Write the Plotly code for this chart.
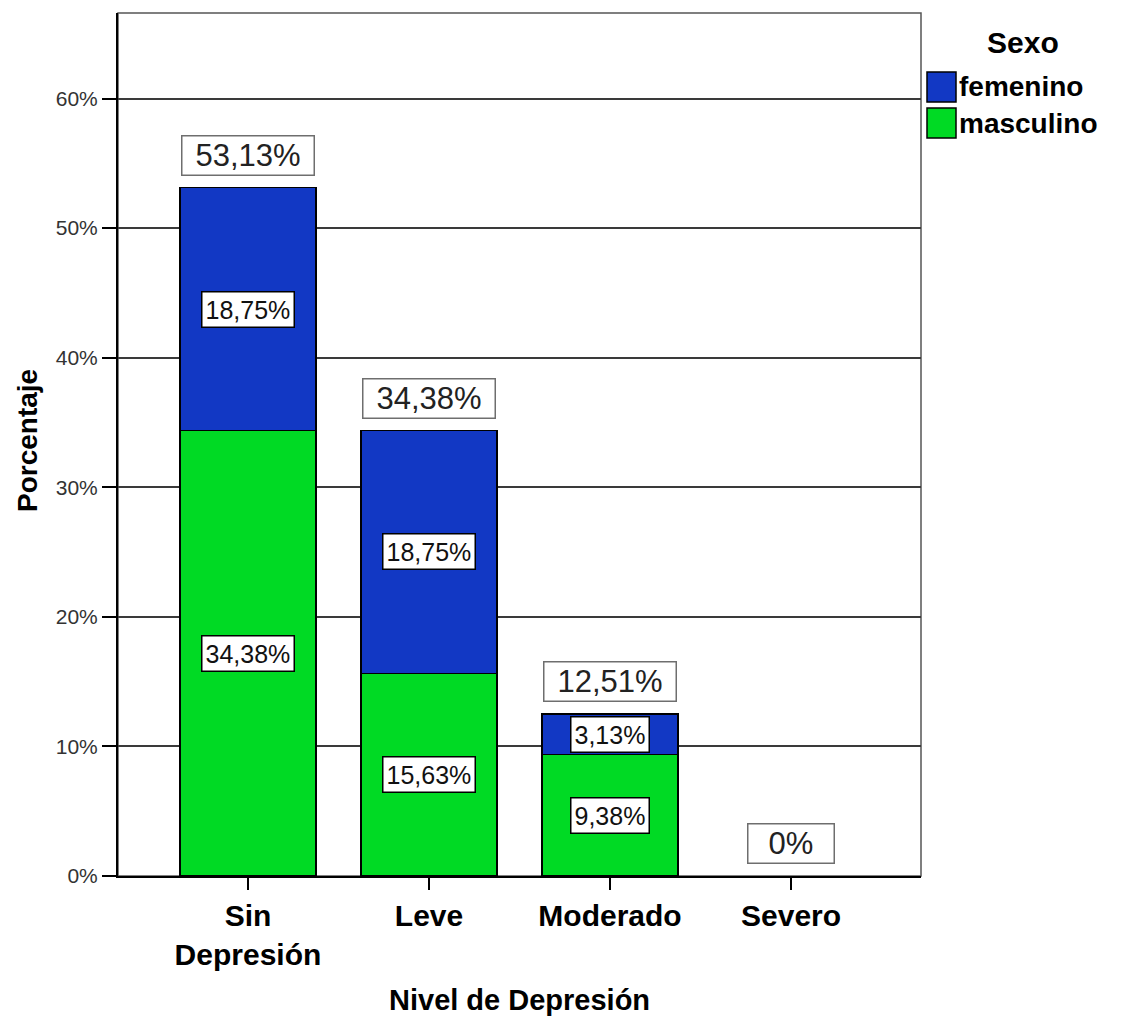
import plotly.graph_objects as go

# Data: percentage of participants by depression level and sex
niveles = ["Sin Depresión", "Leve", "Moderado", "Severo"]
niveles_tick = ["<b>Sin</b><br><b>Depresión</b>", "<b>Leve</b>", "<b>Moderado</b>", "<b>Severo</b>"]
masculino = [34.38, 15.63, 9.38, 0.0]
femenino = [18.75, 18.75, 3.13, 0.0]
totales = [53.13, 34.38, 12.51, 0.0]
etiquetas_masc = ["34,38%", "15,63%", "9,38%", ""]
etiquetas_fem = ["18,75%", "18,75%", "3,13%", ""]
etiquetas_tot = ["53,13%", "34,38%", "12,51%", "0%"]
y_ticks = [0, 10, 20, 30, 40, 50, 60]
y_tick_text = ["0%", "10%", "20%", "30%", "40%", "50%", "60%"]

AZUL = "#1238C4"
VERDE = "#00DA24"
SANS = "Liberation Sans, Arial, sans-serif"

# Plot-area geometry in pixels, used to place the hand-drawn legend
L, R, T, B = 118, 921, 13, 876


def px_x(x):
    return (x - L) / (R - L)


def px_y(y):
    return (B - y) / (B - T)


fig = go.Figure()
fig.add_trace(go.Bar(
    x=niveles, y=masculino, name="masculino",
    marker=dict(color=VERDE,
                line=dict(color="black", width=[1.5 if v > 0 else 0 for v in masculino])),
    width=0.75, showlegend=False, hoverinfo="skip",
))
fig.add_trace(go.Bar(
    x=niveles, y=femenino, name="femenino",
    marker=dict(color=AZUL,
                line=dict(color="black", width=[1.5 if v > 0 else 0 for v in femenino])),
    width=0.75, showlegend=False, hoverinfo="skip",
))

annotations = []
seg_font = dict(family=SANS, size=25, color="#111")
for i, cat in enumerate(niveles):
    # Segment labels centred in each stacked segment
    if etiquetas_masc[i]:
        annotations.append(dict(
            x=cat, y=masculino[i] / 2, xref="x", yref="y",
            text=etiquetas_masc[i], showarrow=False, font=seg_font,
            bgcolor="white", bordercolor="black", borderwidth=1.5, borderpad=3,
        ))
    if etiquetas_fem[i]:
        annotations.append(dict(
            x=cat, y=masculino[i] + femenino[i] / 2, xref="x", yref="y",
            text=etiquetas_fem[i], showarrow=False, font=seg_font,
            bgcolor="white", bordercolor="black", borderwidth=1.5, borderpad=3,
        ))
    # Total label above each bar
    annotations.append(dict(
        x=cat, y=totales[i], xref="x", yref="y", yanchor="bottom",
        yshift=12, text=etiquetas_tot[i], showarrow=False,
        width=11.5 * len(etiquetas_tot[i]) + 60, height=36,
        font=dict(family=SANS, size=31, color="#222"),
        bgcolor="white", bordercolor="#6e6e6e", borderwidth=1.5, borderpad=1,
    ))

# Axis titles
annotations.append(dict(
    x=0.5, y=0, xref="paper", yref="paper", yshift=-124, yanchor="middle",
    text="<b>Nivel de Depresión</b>", showarrow=False,
    font=dict(family=SANS, size=29, color="black"),
))
annotations.append(dict(
    x=0, y=0.504, xref="paper", yref="paper", xshift=-91, xanchor="center",
    text="<b>Porcentaje</b>", textangle=-90, showarrow=False,
    font=dict(family=SANS, size=28, color="black"),
))

# Legend: title, swatches and names
annotations.append(dict(
    x=px_x(1023), y=px_y(42), xref="paper", yref="paper", showarrow=False,
    xanchor="center", yanchor="middle",
    text="<b>Sexo</b>", font=dict(family=SANS, size=30, color="black"),
))
leyenda = [("femenino", AZUL), ("masculino", VERDE)]
shapes = []
for k, (nombre, color) in enumerate(leyenda):
    top = 72 + 36 * k
    shapes.append(dict(
        type="rect", xref="paper", yref="paper",
        x0=px_x(927), x1=px_x(956), y0=px_y(top), y1=px_y(top + 30),
        fillcolor=color, line=dict(color="black", width=1.5),
    ))
    annotations.append(dict(
        x=px_x(957), y=px_y(top + 15), xref="paper", yref="paper",
        xanchor="left", yanchor="middle",
        text="<b>" + nombre + "</b>", showarrow=False,
        font=dict(family=SANS, size=28, color="black"),
    ))

# Plot frame (top and right edges)
shapes.append(dict(
    type="rect", xref="paper", yref="paper", x0=0, x1=1, y0=0, y1=1,
    line=dict(color="#555", width=1.5), layer="below",
))

fig.update_layout(
    barmode="stack",
    width=1126, height=1016,
    margin=dict(l=L, r=1126 - R, t=T, b=1016 - B, autoexpand=False),
    paper_bgcolor="white", plot_bgcolor="white",
    annotations=annotations,
    shapes=shapes,
    showlegend=False,
)
fig.update_xaxes(
    tickmode="array", tickvals=niveles, ticktext=niveles_tick,
    range=[-0.718, 3.718],
    showline=True, linecolor="black", linewidth=2,
    ticks="outside", ticklen=12, tickwidth=1.5, tickcolor="black",
    tickfont=dict(family=SANS, size=30, color="black"),
    showgrid=False, zeroline=False,
)
fig.update_yaxes(
    range=[0, 66.6], tickvals=y_ticks, ticktext=y_tick_text,
    showline=True, linecolor="black", linewidth=2,
    ticks="outside", ticklen=14, tickwidth=1.5, tickcolor="black",
    tickfont=dict(family=SANS, size=21, color="#333"),
    showgrid=True, gridcolor="#3a3a3a", gridwidth=1.5,
    zeroline=False,
)

fig.write_html("out.html")
